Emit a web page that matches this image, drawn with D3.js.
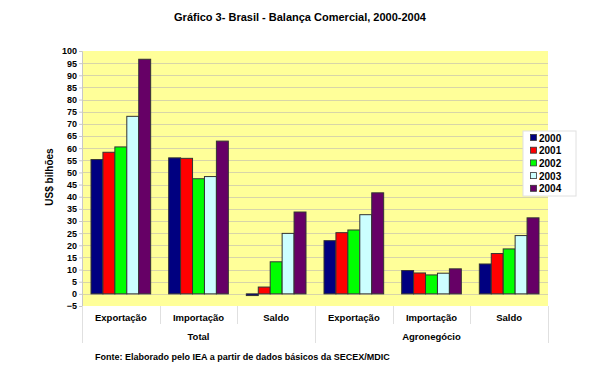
<!DOCTYPE html>
<html>
<head>
<meta charset="utf-8">
<script src="https://cdn.jsdelivr.net/npm/d3@7"></script>
<style>
  body { margin: 0; background: #fff; }
  text { font-family: "Liberation Sans", Arial, sans-serif; font-weight: bold; fill: #000; }
</style>
</head>
<body>
<div id="chart"></div>
<script>
// Data
const years = ['2000', '2001', '2002', '2003', '2004'];
const categories = ['Exportação', 'Importação', 'Saldo', 'Exportação', 'Importação', 'Saldo'];
const groups = ['Total', 'Agronegócio'];
const v2000 = [55.3, 56.0, -0.7, 21.9, 9.6, 12.3];
const v2001 = [58.3, 55.8, 2.8, 25.2, 8.6, 16.6];
const v2002 = [60.5, 47.4, 13.2, 26.3, 7.8, 18.5];
const v2003 = [73.1, 48.3, 24.9, 32.6, 8.5, 24.0];
const v2004 = [96.6, 62.9, 33.7, 41.6, 10.3, 31.3];
const yTicks = d3.range(-5, 101, 5);
const colors = ['#000080', '#ff0000', '#00ff00', '#ccffff', '#660066'];

function renderChart(containerId) {
    const container = d3.select(`#${containerId}`);
    container.selectAll('*').remove();

    const W = 591, H = 366;
    const margin = { top: 51, right: 43, bottom: 60, left: 82 };
    const width = W - margin.left - margin.right;
    const height = H - margin.top - margin.bottom;

    const svgRoot = container.append('svg')
        .attr('width', W)
        .attr('height', H);

    // Title
    svgRoot.append('text')
        .attr('x', 300)
        .attr('y', 21)
        .attr('text-anchor', 'middle')
        .style('font-size', '11px')
        .text('Gráfico 3- Brasil - Balança Comercial, 2000-2004');

    const svg = svgRoot.append('g')
        .attr('transform', `translate(${margin.left},${margin.top})`);

    const y = d3.scaleLinear().domain([-5, 100]).range([height, 0]);
    const x0 = d3.scaleBand().domain(d3.range(categories.length)).range([0, width]).paddingInner(0).paddingOuter(0);
    const x1 = d3.scaleBand().domain(years).range([9, x0.bandwidth() - 9]);

    // plot background
    svg.append('rect')
        .attr('width', width)
        .attr('height', height)
        .attr('fill', '#ffff99');

    // gridlines
    svg.selectAll('.grid')
        .data(yTicks.filter(t => t > -5 && t < 100))
        .enter()
        .append('line')
        .attr('x1', 0)
        .attr('x2', width)
        .attr('y1', d => Math.round(y(d)) + 0.5)
        .attr('y2', d => Math.round(y(d)) + 0.5)
        .attr('stroke', '#d8d5a8')
        .attr('stroke-width', 1);

    // Y axis
    const yAxis = svg.append('g')
        .call(d3.axisLeft(y).tickValues(yTicks).tickSize(3).tickPadding(2));
    yAxis.select('.domain').attr('stroke', '#c8c8c8');
    yAxis.selectAll('.tick line').attr('stroke', '#c8c8c8');
    yAxis.selectAll('.tick text')
        .style('font-size', '9px')
        .style('font-family', '"Liberation Sans", Arial, sans-serif')
        .style('font-weight', 'bold');

    svgRoot.append('text')
        .attr('transform', 'rotate(-90)')
        .attr('x', -177)
        .attr('y', 53)
        .attr('text-anchor', 'middle')
        .style('font-size', '10px')
        .text('US$ bilhões');

    // Bars
    const series = [v2000, v2001, v2002, v2003, v2004];
    series.forEach((vals, si) => {
        svg.selectAll(`.bar${si}`)
            .data(vals)
            .enter()
            .append('rect')
            .attr('x', (d, i) => x0(i) + x1(years[si]))
            .attr('y', d => y(Math.max(0, d)))
            .attr('width', x1.bandwidth())
            .attr('height', d => Math.abs(y(d) - y(0)))
            .attr('fill', colors[si])
            .attr('stroke', '#333')
            .attr('stroke-width', 1);
    });

    // Category axis separators
    const sepY = height;
    d3.range(categories.length + 1).forEach(i => {
        const xx = i === categories.length ? width : x0(i);
        const longLine = i % 3 === 0;
        svg.append('line')
            .attr('x1', Math.round(xx) + 0.5)
            .attr('x2', Math.round(xx) + 0.5)
            .attr('y1', sepY)
            .attr('y2', longLine ? sepY + 37 : sepY + 18)
            .attr('stroke', '#e0e0e0');
    });

    // Category labels
    svg.selectAll('.cat')
        .data(categories)
        .enter()
        .append('text')
        .attr('x', (d, i) => x0(i) + x0.bandwidth() / 2)
        .attr('y', height + 15)
        .attr('text-anchor', 'middle')
        .style('font-size', '9.5px')
        .text(d => d);

    // Group labels
    groups.forEach((g, gi) => {
        svg.append('text')
            .attr('x', x0(gi * 3) + x0.bandwidth() * 1.5)
            .attr('y', height + 34)
            .attr('text-anchor', 'middle')
            .style('font-size', '9.5px')
            .text(g);
    });

    // Legend
    const legend = svgRoot.append('g').attr('transform', 'translate(523,131)');
    legend.append('rect')
        .attr('width', 53)
        .attr('height', 65)
        .attr('fill', '#fff')
        .attr('stroke', '#e0e0e0');
    years.forEach((yr, i) => {
        legend.append('rect')
            .attr('x', 7.5)
            .attr('y', 3.5 + i * 12.7)
            .attr('width', 6)
            .attr('height', 6)
            .attr('fill', colors[i])
            .attr('stroke', '#333')
            .attr('stroke-width', 0.8);
        legend.append('text')
            .attr('x', 16)
            .attr('y', 10.5 + i * 12.7)
            .style('font-size', '10px')
            .text(yr);
    });

    // Source
    svgRoot.append('text')
        .attr('x', 95)
        .attr('y', 360)
        .style('font-size', '9px')
        .text('Fonte: Elaborado pelo IEA a partir de dados básicos da SECEX/MDIC');
}

renderChart('chart');
</script>
</body>
</html>
